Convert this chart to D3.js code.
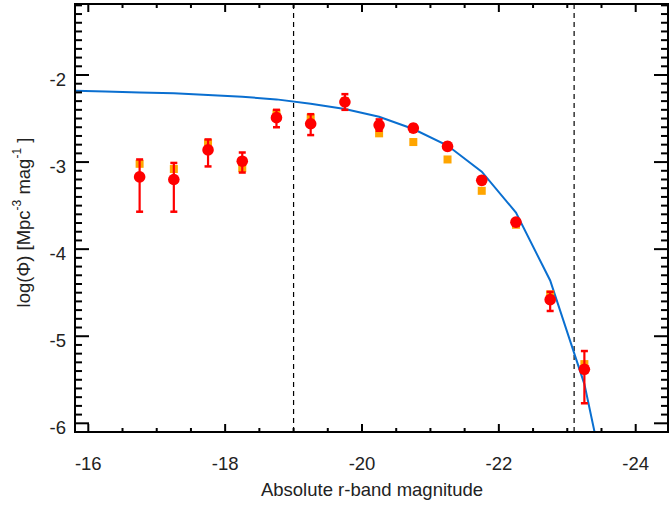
<!DOCTYPE html>
<html><head><meta charset="utf-8">
<script src="https://cdn.jsdelivr.net/npm/d3@7"></script>
<style>
html,body{margin:0;padding:0;background:#fff;}
svg text{font-family:"Liberation Sans",Arial,Helvetica,sans-serif;fill:#222;}
</style></head>
<body>
<script>
// ---- data ----
const mags = [-16.75,-17.25,-17.75,-18.25,-18.75,-19.25,-19.75,-20.25,-20.75,-21.25,-21.75,-22.25,-22.75,-23.25];
const redVals  = [-3.17,-3.20,-2.86,-2.99,-2.49,-2.56,-2.31,-2.575,-2.61,-2.82,-3.21,-3.69,-4.58,-5.38];
const redUpper = [-2.97,-3.01,-2.74,-2.89,-2.40,-2.45,-2.22,-2.51,-2.57,-2.78,-3.17,-3.66,-4.49,-5.17];
const redLower = [-3.57,-3.57,-3.05,-3.12,-2.60,-2.69,-2.40,-2.64,-2.65,-2.86,-3.25,-3.72,-4.71,-5.77];
const orangeVals = [-3.02,-3.08,-2.78,-3.07,-2.44,-2.49,-2.30,-2.67,-2.77,-2.97,-3.33,-3.72,-4.52,-5.32];
const fitMags = [-15.25,-15.75,-16.25,-16.75,-17.25,-17.75,-18.25,-18.75,-19.25,-19.75,-20.25,-20.75,-21.25,-21.75,-22.25,-22.75,-23.25,-23.75];
const fitVals = [-2.16,-2.18,-2.19,-2.20,-2.21,-2.23,-2.25,-2.28,-2.33,-2.39,-2.48,-2.62,-2.81,-3.11,-3.58,-4.36,-5.55,-7.40];
const limits = [-19.0, -23.1];
const xTicks = [-16,-18,-20,-22,-24];
const yTicks = [-2,-3,-4,-5,-6];

// ---- layout ----
const W = 670, H = 506;
const L = 75, R = 668, T = 4, B = 432;
const svg = d3.select("body").append("svg").attr("width",W).attr("height",H);

const x = d3.scaleLinear().domain([-16,-24]).range([88.3,635.7]);
const y = d3.scaleLinear().domain([-2,-6]).range([75,423.3]);
const xMin = x.invert(L), xMax = x.invert(R);
const yTop = y.invert(T), yBot = y.invert(B);

svg.append("clipPath").attr("id","clip").append("rect")
  .attr("x",L).attr("y",T).attr("width",R-L).attr("height",B-T);

const plot = svg.append("g").attr("clip-path","url(#clip)");

// dashed limits
limits.forEach(m=>{
  plot.append("line").attr("x1",x(m)).attr("x2",x(m)).attr("y1",T).attr("y2",B)
    .attr("stroke","#000").attr("stroke-width",1.2).attr("stroke-dasharray","5,4");
});

// fit line
const line = d3.line().x((d,i)=>x(fitMags[i])).y(d=>y(d));
plot.append("path").datum(fitVals).attr("d",line).attr("fill","none")
  .attr("stroke","#0a6fd0").attr("stroke-width",2);

// orange squares
const sq = 8;
plot.selectAll(".sq").data(orangeVals).join("rect")
  .attr("x",(d,i)=>x(mags[i])-sq/2).attr("y",d=>y(d)-sq/2)
  .attr("width",sq).attr("height",sq).attr("fill","#ffa500");

// red error bars
const cap = 3.5;
const eb = plot.selectAll(".eb").data(mags).join("g");
eb.append("line").attr("x1",d=>x(d)).attr("x2",d=>x(d))
  .attr("y1",(d,i)=>y(redUpper[i])).attr("y2",(d,i)=>y(redLower[i]))
  .attr("stroke","#ff0000").attr("stroke-width",2.2);
eb.append("line").attr("x1",d=>x(d)-cap).attr("x2",d=>x(d)+cap)
  .attr("y1",(d,i)=>y(redUpper[i])).attr("y2",(d,i)=>y(redUpper[i]))
  .attr("stroke","#ff0000").attr("stroke-width",2.5);
eb.append("line").attr("x1",d=>x(d)-cap).attr("x2",d=>x(d)+cap)
  .attr("y1",(d,i)=>y(redLower[i])).attr("y2",(d,i)=>y(redLower[i]))
  .attr("stroke","#ff0000").attr("stroke-width",2.5);
plot.selectAll(".pt").data(redVals).join("circle")
  .attr("cx",(d,i)=>x(mags[i])).attr("cy",d=>y(d)).attr("r",5.8).attr("fill","#ff0000");

// ---- axes frame & ticks ----
const ax = svg.append("g").attr("stroke","#000").attr("stroke-width",2);
ax.append("rect").attr("x",L).attr("y",T).attr("width",R-L).attr("height",B-T).attr("fill","none");

// x ticks (every 0.5, major every 2)
const xMinor = d3.range(-16,-24.01,-0.5).filter(v=>v<=xMin && v>=xMax);
xMinor.forEach(v=>{
  const major = xTicks.includes(v);
  const len = major ? 8 : 4;
  ax.append("line").attr("x1",x(v)).attr("x2",x(v)).attr("y1",B).attr("y2",B-len);
  ax.append("line").attr("x1",x(v)).attr("x2",x(v)).attr("y1",T).attr("y2",T+len);
});
// y ticks (every 0.1, major every 1)
const yMinor = d3.range(-6.1,-1.15,0.1).map(v=>Math.round(v*10)/10).filter(v=>v>=yBot-1e-6 && v<=yTop);
yMinor.forEach(v=>{
  const major = yTicks.includes(v);
  const len = major ? 14 : 7;
  ax.append("line").attr("x1",L).attr("x2",L+len).attr("y1",y(v)).attr("y2",y(v));
  ax.append("line").attr("x1",R).attr("x2",R-len).attr("y1",y(v)).attr("y2",y(v));
});

// tick labels
const fs = 18.5;
svg.selectAll(".xl").data(xTicks).join("text")
  .attr("x",d=>x(d)).attr("y",469.5).attr("text-anchor","middle")
  .attr("font-size",fs).text(d=>"-"+Math.abs(d));
svg.selectAll(".yl").data(yTicks).join("text")
  .attr("x",66).attr("y",d=>y(d)+10.5).attr("text-anchor","end")
  .attr("font-size",fs).text(d=>"-"+Math.abs(d));

// axis titles
svg.append("text").attr("x",372).attr("y",496).attr("text-anchor","middle")
  .attr("font-size",fs).text("Absolute r-band magnitude");

const yt = svg.append("text").attr("transform","translate(30,222.5) rotate(-90)")
  .attr("text-anchor","middle").attr("font-size",fs);
yt.append("tspan").text("log(Φ) [Mpc");
yt.append("tspan").attr("font-size",12).attr("dy",-9).text("-3");
yt.append("tspan").attr("dy",9).text(" mag");
yt.append("tspan").attr("font-size",12).attr("dy",-9).text("-1");
yt.append("tspan").attr("dy",9).text(" ]");
</script>
</body></html>
